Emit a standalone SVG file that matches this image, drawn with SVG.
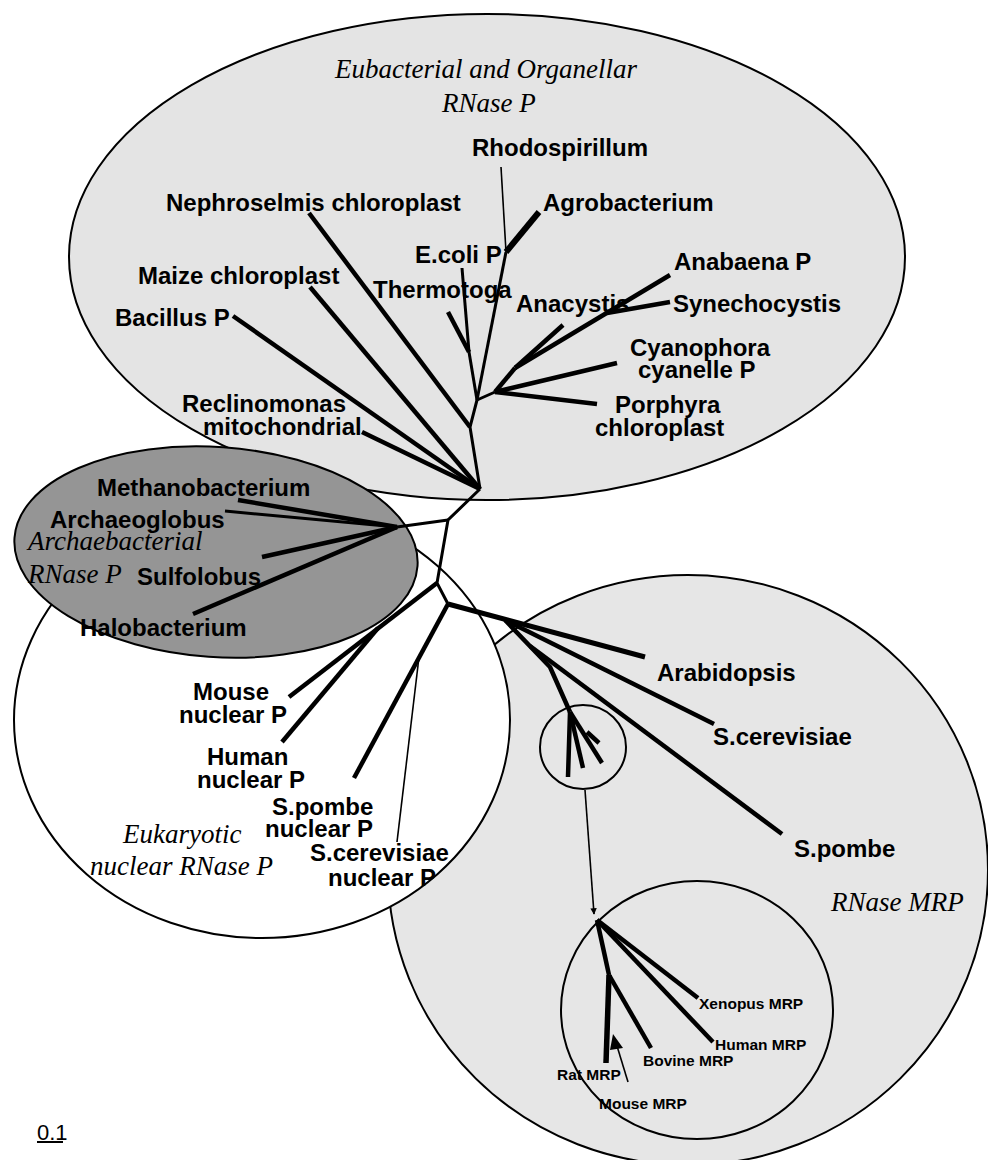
<svg xmlns="http://www.w3.org/2000/svg" width="988" height="1160" viewBox="0 0 988 1160">
<style>
.ell{stroke:#000;stroke-width:2}
.br{stroke:#000;stroke-width:4.5;fill:none;stroke-linecap:butt;stroke-linejoin:round}
.md{stroke:#000;stroke-width:3;fill:none}
.thin{stroke:#000;stroke-width:1.6;fill:none}
.lbl{font-family:"Liberation Sans",Arial,sans-serif;font-weight:bold;font-size:24px;fill:#000}
.sm{font-family:"Liberation Sans",Arial,sans-serif;font-weight:bold;font-size:15.5px;fill:#000}
.it{font-family:"Liberation Serif","Times New Roman",serif;font-style:italic;font-size:27px;fill:#000}
.sc{font-family:"Liberation Sans",Arial,sans-serif;font-size:22px;fill:#000}
</style>
<defs>
<marker id="ah" viewBox="0 0 10 10" refX="9" refY="5" markerWidth="4" markerHeight="4" orient="auto"><path d="M0,0 L10,5 L0,10 z" fill="#000"/></marker>
</defs>
<rect width="988" height="1160" fill="#fff"/>

<g id="mrp-region">
<ellipse class="ell" cx="688" cy="870" rx="300" ry="295" fill="#e6e6e6"/>
</g>
<g id="eubacterial-region">
<ellipse class="ell" cx="487" cy="257" rx="418" ry="243" fill="#e4e4e4"/>
</g>
<g id="eukaryotic-region">
<ellipse class="ell" cx="262" cy="720" rx="248" ry="218" fill="#fff"/>
</g>
<g id="archaebacterial-region">
<ellipse class="ell" cx="216" cy="552" rx="202" ry="105" fill="#959595" transform="rotate(4 216 552)"/>
</g>
<g id="mrp-small-circle">
<ellipse class="ell" cx="583" cy="747" rx="43" ry="42" fill="none"/>
</g>
<g id="mrp-inset-circle">
<ellipse class="ell" cx="697" cy="1010" rx="136" ry="129" fill="none"/>
</g>

<g id="connectors">
<!-- eubacterial -->
<line class="br" x1="233" y1="316" x2="480" y2="489"/>
<line class="br" x1="310" y1="287" x2="480" y2="489"/>
<line class="br" x1="362" y1="432" x2="480" y2="489"/>
<line class="br" x1="309" y1="213" x2="470" y2="427"/>
<polyline class="md" points="480,489 470,427 477,400"/>
<polyline class="md" points="477,400 469,352"/>
<line class="md" x1="462" y1="268" x2="469" y2="352"/>
<line class="br" x1="448" y1="312" x2="469" y2="352"/>
<line class="md" x1="477" y1="400" x2="506" y2="252"/>
<line class="thin" x1="501" y1="167" x2="506" y2="252"/>
<line class="br" style="stroke-width:6" x1="539" y1="212" x2="506" y2="252"/>
<line class="md" x1="477" y1="400" x2="495" y2="392"/>
<line class="br" x1="495" y1="392" x2="597" y2="404"/>
<line class="br" x1="495" y1="392" x2="617" y2="363"/>
<line class="br" x1="495" y1="392" x2="515" y2="368"/>
<line class="br" x1="515" y1="368" x2="563" y2="325"/>
<line class="br" x1="515" y1="368" x2="670" y2="275"/>
<line class="br" x1="607" y1="313" x2="670" y2="302"/>
<!-- trunk -->
<polyline class="md" points="480,489 448,520 437,583 448,604"/>
<!-- archaea -->
<line class="md" x1="448" y1="520" x2="397" y2="527"/>
<line class="br" x1="238" y1="500" x2="397" y2="527"/>
<line class="md" x1="225" y1="511" x2="397" y2="527"/>
<line class="br" x1="262" y1="557" x2="397" y2="527"/>
<line class="br" x1="193" y1="614" x2="397" y2="527"/>
<!-- eukaryotic nuclear -->
<line class="br" x1="437" y1="583" x2="289" y2="697"/>
<line class="br" x1="378" y1="628" x2="282" y2="742"/>
<line class="br" x1="448" y1="604" x2="354" y2="778"/>
<line class="thin" x1="419" y1="657" x2="397" y2="842"/>
<!-- MRP -->
<line class="br" style="stroke-width:5" x1="448" y1="604" x2="645" y2="657"/>
<line class="br" x1="505" y1="620" x2="714" y2="724"/>
<polyline class="br" points="505,620 550,667 570,712"/>
<line class="br" x1="530" y1="646" x2="782" y2="834"/>
<line class="br" x1="570" y1="712" x2="568" y2="777"/>
<line class="br" x1="570" y1="712" x2="583" y2="768"/>
<line class="br" x1="570" y1="712" x2="602" y2="763"/>
<line class="br" x1="587" y1="732" x2="599" y2="743"/>
<line class="thin" x1="585" y1="790" x2="594" y2="914" marker-end="url(#ah)"/>
<line class="br" x1="597" y1="920" x2="698" y2="998"/>
<line class="br" x1="597" y1="920" x2="713" y2="1042"/>
<line class="br" x1="597" y1="920" x2="609" y2="975"/>
<line class="br" style="stroke-width:5.5" x1="609" y1="975" x2="606" y2="1063"/>
<line class="br" x1="609" y1="975" x2="651" y2="1048"/>
<line class="thin" x1="628" y1="1082" x2="617" y2="1046"/>
<polygon points="613,1034 623,1048 610,1050" fill="#000"/>
<!-- scale bar -->
<line stroke="#000" stroke-width="2" x1="37" y1="1142" x2="63" y2="1142"/>
</g>

<g id="labels-eubacterial">
<text class="it" x="335" y="78">Eubacterial and Organellar</text>
<text class="it" x="442" y="112">RNase P</text>
<text class="lbl" x="472" y="156">Rhodospirillum</text>
<text class="lbl" x="166" y="211">Nephroselmis chloroplast</text>
<text class="lbl" x="543" y="211">Agrobacterium</text>
<text class="lbl" x="415" y="263">E.coli P</text>
<text class="lbl" x="674" y="270">Anabaena P</text>
<text class="lbl" x="138" y="284">Maize chloroplast</text>
<text class="lbl" x="373" y="298">Thermotoga</text>
<text class="lbl" x="516" y="312">Anacystis</text>
<text class="lbl" x="673" y="312">Synechocystis</text>
<text class="lbl" x="115" y="326">Bacillus P</text>
<text class="lbl" x="630" y="356">Cyanophora</text>
<text class="lbl" x="638" y="378">cyanelle P</text>
<text class="lbl" x="182" y="412">Reclinomonas</text>
<text class="lbl" x="203" y="435">mitochondrial</text>
<text class="lbl" x="615" y="413">Porphyra</text>
<text class="lbl" x="595" y="436">chloroplast</text>
</g>
<g id="labels-archaebacterial">
<text class="lbl" x="97" y="496">Methanobacterium</text>
<text class="lbl" x="50" y="528">Archaeoglobus</text>
<text class="it" x="28" y="550">Archaebacterial</text>
<text class="it" x="28" y="583">RNase P</text>
<text class="lbl" x="137" y="585">Sulfolobus</text>
<text class="lbl" x="80" y="636">Halobacterium</text>
</g>
<g id="labels-eukaryotic">
<text class="lbl" x="193" y="700">Mouse</text>
<text class="lbl" x="179" y="723">nuclear P</text>
<text class="lbl" x="207" y="765">Human</text>
<text class="lbl" x="197" y="788">nuclear P</text>
<text class="lbl" x="272" y="815">S.pombe</text>
<text class="lbl" x="265" y="837">nuclear P</text>
<text class="it" x="123" y="843">Eukaryotic</text>
<text class="it" x="90" y="875">nuclear RNase P</text>
<text class="lbl" x="310" y="861">S.cerevisiae</text>
<text class="lbl" x="328" y="886">nuclear P</text>
</g>
<g id="labels-mrp">
<text class="lbl" x="657" y="681">Arabidopsis</text>
<text class="lbl" x="713" y="745">S.cerevisiae</text>
<text class="lbl" x="794" y="857">S.pombe</text>
<text class="it" x="831" y="911">RNase MRP</text>
<text class="sm" x="699" y="1009">Xenopus MRP</text>
<text class="sm" x="715" y="1050">Human MRP</text>
<text class="sm" x="643" y="1066">Bovine MRP</text>
<text class="sm" x="557" y="1080">Rat MRP</text>
<text class="sm" x="599" y="1109">Mouse MRP</text>
</g>
<g id="scale">
<text class="sc" x="37" y="1140">0.1</text>
</g>
</svg>
